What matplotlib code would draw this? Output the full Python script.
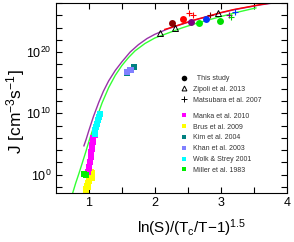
import numpy as np
import matplotlib
matplotlib.use('Agg')
import matplotlib.pyplot as plt
from matplotlib.lines import Line2D
from matplotlib.ticker import NullFormatter, FixedLocator

plt.rcParams['font.family'] = 'Liberation Sans'
plt.rcParams['mathtext.fontset'] = 'custom'
plt.rcParams['mathtext.rm'] = 'Liberation Sans'
plt.rcParams['mathtext.it'] = 'Liberation Sans:italic'

# theory curves (x, log10 J)
purple_x = [0.925, 0.96, 1.0, 1.07, 1.15, 1.22, 1.3, 1.4, 1.5, 1.625, 1.75, 1.88,
            2.0, 2.2, 2.4, 2.6, 2.84, 3.0, 3.2, 3.4, 3.6, 3.85]
purple_logJ = [4.7, 5.8, 7.2, 9.5, 11.8, 13.6, 15.3, 17.0, 18.4, 20.0, 21.2, 22.2,
               22.9, 23.8, 24.5, 25.2, 25.9, 26.4, 26.9, 27.3, 27.7, 28.1]
green_x = [0.755, 0.8, 0.85, 0.9, 0.95, 1.0, 1.1, 1.2, 1.3, 1.4, 1.5, 1.6, 1.7,
           1.85, 2.0, 2.2, 2.4, 2.6, 2.8, 3.0, 3.25, 3.53]
green_logJ = [-3.0, -1.4, 0.2, 1.9, 3.6, 5.4, 8.7, 11.7, 14.2, 16.2, 17.8, 19.1, 20.2,
              21.4, 22.3, 23.1, 23.9, 24.6, 25.2, 25.8, 26.5, 27.2]
red_x = [2.15, 2.2, 2.4, 2.6, 2.84, 3.0, 3.2, 3.4, 3.6, 3.85]
red_logJ = [23.7, 23.85, 24.55, 25.25, 25.95, 26.45, 26.95, 27.35, 27.75, 28.15]

# this study
study_x = [2.26, 2.42, 2.54, 2.67, 2.77, 2.98]
study_logJ = [24.8, 25.4, 24.95, 24.8, 25.4, 25.1]
study_colors = ['#8b0000', '#ff0000', '#800080', '#00ee00', '#0033ff', '#00dd00']

# Zipoli et al. 2013
zipoli_x = [2.07, 2.31, 2.96]
zipoli_logJ = [23.05, 24.0, 26.4]

# Matsubara et al. 2007
matsu_x = [2.51, 2.57, 2.83, 3.12, 3.15, 3.22]
matsu_logJ = [26.3, 26.1, 26.0, 26.0, 25.7, 26.6]
matsu_colors = ['#ff0000', '#ff0000', '#8b0000', '#800080', '#00cc00', '#0033ff']

# experiments
manka_x = [1.09, 1.07, 1.06, 1.05, 1.04, 1.03, 1.025, 1.015, 1.005, 0.99, 1.0]
manka_logJ = [6.4, 5.9, 5.4, 4.8, 4.2, 3.7, 2.9, 2.1, 1.3, 0.5, 1.0]
brus_x = [1.03, 1.05, 1.02, 1.04, 1.0, 0.98, 0.97, 0.96, 0.99, 0.95]
brus_logJ = [0.5, 0.2, -0.2, -0.6, -1.0, -1.4, -1.8, -2.3, -2.0, -2.6]
kim_x = [1.68, 1.57]
kim_logJ = [17.6, 16.5]
khan_x = [1.58, 1.62, 1.64]
khan_logJ = [16.8, 17.0, 17.1]
wolk_x = [1.17, 1.16, 1.14, 1.13, 1.11, 1.10, 1.09]
wolk_logJ = [9.9, 9.4, 8.9, 8.3, 7.7, 7.2, 6.7]
miller_x = [0.93, 0.95]
miller_logJ = [0.05, -0.1]

def J(v):
    return 10.0 ** np.array(v)

fig = plt.figure(figsize=(2.94, 2.42), dpi=100)
ax = fig.add_axes([0.19, 0.2025, 0.786, 0.785])

ax.plot(green_x, J(green_logJ), color='#33ff33', lw=1.0)
ax.plot(purple_x, J(purple_logJ), color='#9932a8', lw=1.0)
ax.plot(red_x, J(red_logJ), color='#ff0000', lw=1.0)

sq = dict(marker='s', ms=4, mew=0, ls='none')
ax.plot(brus_x, J(brus_logJ), color='#ffff00', **sq)
ax.plot(manka_x, J(manka_logJ), color='#ff00ff', **sq)
ax.plot(wolk_x, J(wolk_logJ), color='#00ffff', **sq)
ax.plot(miller_x, J(miller_logJ), color='#00ee00', **sq)
ax.plot(kim_x, J(kim_logJ), color='#008080', **sq)
ax.plot(khan_x, J(khan_logJ), color='#8080ff', **sq)

for x, y, c in zip(study_x, study_logJ, study_colors):
    ax.plot(x, 10.0 ** y, marker='o', ms=5, mew=0, color=c)
for x, y, c in zip(matsu_x, matsu_logJ, matsu_colors):
    ax.plot(x, 10.0 ** y, marker='+', ms=5, mew=0.8, color=c)
ax.plot(zipoli_x, J(zipoli_logJ), marker='^', ms=4, mew=0.7, mfc='none',
        mec='black', ls='none')

ax.set_yscale('log')
ax.set_xlim(0.5, 4)
ax.set_ylim(1e-3, 1e28)
ax.set_xticks([1, 2, 3, 4])
ax.set_xticks([1.5, 2.5, 3.5], minor=True)
ax.yaxis.set_major_locator(FixedLocator([1e0, 1e10, 1e20]))
ax.yaxis.set_minor_locator(FixedLocator([10.0 ** k for k in range(-2, 29, 2) if k % 10]))
ax.yaxis.set_minor_formatter(NullFormatter())
ax.tick_params(which='both', direction='in', top=True, right=True,
               length=4, width=0.8, labelsize=9, pad=3)
for s in ax.spines.values():
    s.set_linewidth(0.8)

ax.set_xlabel(r'ln(S)/(T$_\mathregular{c}$/T$-$1)$^\mathregular{1.5}$', fontsize=11)
ax.xaxis.set_label_coords(0.587, -0.128)
ax.set_ylabel(r'J [cm$^\mathregular{-3}$s$^\mathregular{-1}$]', fontsize=12.5)
ax.yaxis.set_label_coords(-0.125, 0.43)

h1 = [Line2D([], [], marker='o', ms=4, mew=0, color='black', ls='none'),
      Line2D([], [], marker='^', ms=3.5, mew=0.7, mfc='none', mec='black', ls='none'),
      Line2D([], [], marker='+', ms=4, mew=0.7, color='black', ls='none')]
l1 = ['  This study', 'Zipoli et al. 2013', 'Matsubara et al. 2007']
h2 = [Line2D([], [], marker='s', ms=3.3, mew=0, color=c, ls='none')
      for c in ['#ff00ff', '#ffff00', '#008080', '#8080ff', '#00ffff', '#00ee00']]
l2 = ['Manka et al. 2010', 'Brus et al. 2009', 'Kim et al. 2004', 'Khan et al. 2003',
      'Wolk & Strey 2001', 'Miller et al. 1983']
leg_kw = dict(frameon=False, fontsize=5, handlelength=1, handletextpad=0.8,
              labelspacing=0.55, borderpad=0, borderaxespad=0, loc='upper left',
              labelcolor='#333333')
leg1 = ax.legend(h1, l1, bbox_to_anchor=(0.539, 0.621), **leg_kw)
ax.add_artist(leg1)
ax.legend(h2, l2, bbox_to_anchor=(0.539, 0.4226), **leg_kw)

fig.savefig('out.png', dpi=100)
